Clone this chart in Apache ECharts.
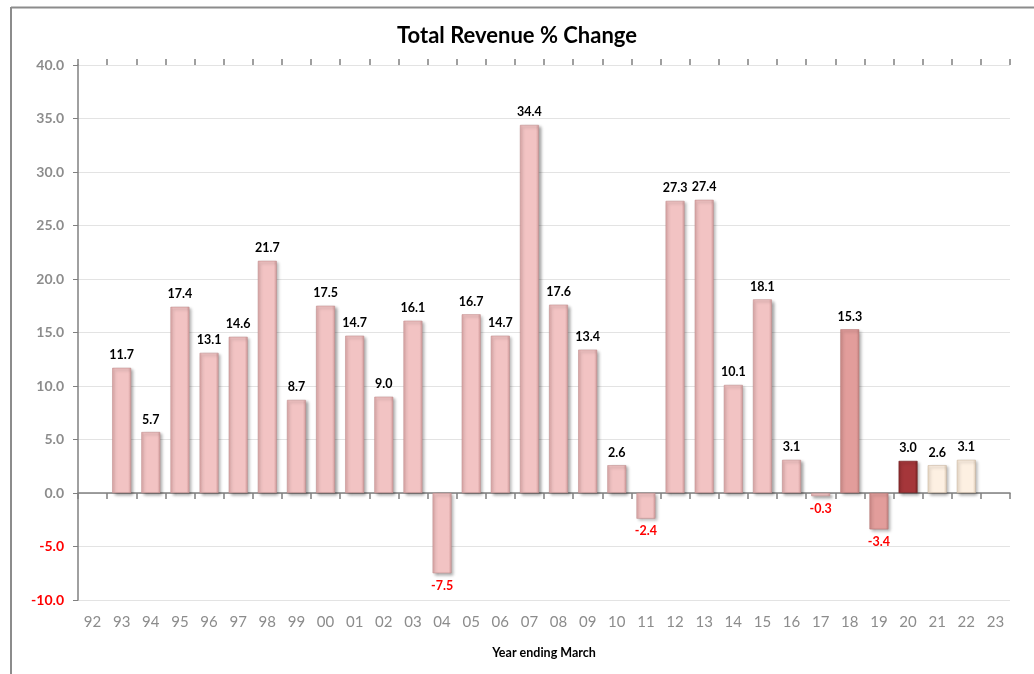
<!DOCTYPE html>
<html>
<head>
<meta charset="utf-8">
<script src="https://cdn.jsdelivr.net/npm/echarts@6/dist/echarts.min.js"></script>
<style>
html,body{margin:0;padding:0;background:#fff;}
#c{width:1034px;height:674px;}
</style>
</head>
<body>
<div id="c"></div>
<script>
// ---- data ----
const years = ['92','93','94','95','96','97','98','99','00','01','02','03','04','05','06','07','08','09','10','11','12','13','14','15','16','17','18','19','20','21','22','23'];
const revenueChange = [null,11.7,5.7,17.4,13.1,14.6,21.7,8.7,17.5,14.7,9.0,16.1,-7.5,16.7,14.7,34.4,17.6,13.4,2.6,-2.4,27.3,27.4,10.1,18.1,3.1,-0.3,15.3,-3.4,3.0,2.6,3.1,null];
const yTicks = [-10,-5,0,5,10,15,20,25,30,35,40];
const titleText = 'Total Revenue % Change';
const xAxisName = 'Year ending March';
// years drawn with a different fill
const midYears = ['18','19'];
const darkYears = ['20'];
const creamYears = ['21','22'];

// ---- styles ----
function grad(edgeL, mid, edgeR){
  return new echarts.graphic.LinearGradient(0,0,1,0,[
    {offset:0,color:edgeL},{offset:0.16,color:mid},{offset:0.84,color:mid},{offset:1,color:edgeR}
  ]);
}
function fillFor(y){
  if (darkYears.includes(y)) return grad('#8c2a2c','#a5363a','#7d2426');
  if (midYears.includes(y)) return grad('#cc8a88','#e29d9b','#c48482');
  if (creamYears.includes(y)) return grad('#eadac6','#fdf0e2','#e2d0bb');
  return grad('#dba6a6','#f2c3c3','#d29c9c');
}
function borderFor(y){
  if (darkYears.includes(y)) return '#6e1e20';
  if (midYears.includes(y)) return '#b57674';
  if (creamYears.includes(y)) return '#cdb9a3';
  return '#c29090';
}

const barData = revenueChange.map((v,i)=>{
  if (v === null) return {value:null};
  const neg = v < 0;
  return {
    value: v,
    itemStyle: {color: fillFor(years[i]), borderColor: borderFor(years[i])},
    label: {position: neg ? 'bottom' : 'top', color: neg ? '#ff0000' : '#000000'}
  };
});

const chart = echarts.init(document.getElementById('c'));
const fontFam = 'Lato, "Open Sans", sans-serif';
chart.setOption({
  backgroundColor:'#ffffff',
  animation:false,
  title:{
    text:titleText, left:'center', top:20,
    textStyle:{fontFamily:fontFam,fontSize:22,fontWeight:'bold',color:'#000'}
  },
  graphic:[
    {type:'line',shape:{x1:11,y1:7.5,x2:1034,y2:7.5},style:{stroke:'#8c8c8c',lineWidth:2}},
    {type:'line',shape:{x1:11,y1:7,x2:11,y2:674},style:{stroke:'#8c8c8c',lineWidth:2}}
  ],
  grid:{left:78,right:24,top:65,bottom:74},
  xAxis:[
    {type:'category',data:years,position:'bottom',
     axisLine:{onZero:true,lineStyle:{color:'#808080',width:1.5}},
     axisTick:{show:true,length:6,lineStyle:{color:'#808080',width:1.5}},
     axisLabel:{show:false},splitLine:{show:false}},
    {type:'category',data:years,position:'top',
     axisLine:{show:false,onZero:true},
     axisTick:{show:true,length:6,lineStyle:{color:'#808080',width:1.5}},
     axisLabel:{show:false},splitLine:{show:false}},
    {type:'category',data:years,position:'bottom',
     axisLine:{show:false,onZero:false},axisTick:{show:false},
     axisLabel:{interval:0,margin:15,fontFamily:fontFam,fontSize:15,color:'#8c8c8c'},
     name:xAxisName,nameLocation:'middle',nameGap:46,
     nameTextStyle:{fontFamily:fontFam,fontSize:12.5,fontWeight:'bold',color:'#000'}}
  ],
  yAxis:{
    type:'value',min:yTicks[0],max:yTicks[yTicks.length-1],interval:5,
    axisLine:{show:true,lineStyle:{color:'#808080',width:1.5}},
    axisTick:{show:true,length:5,lineStyle:{color:'#808080'}},
    splitLine:{show:true,lineStyle:{color:'#e3e3e3',width:1}},
    axisLabel:{margin:14,fontFamily:fontFam,fontSize:14,fontWeight:'bold',
      formatter:v=> v<0 ? '{n|'+v.toFixed(1)+'}' : '{p|'+v.toFixed(1)+'}',
      rich:{p:{color:'#8c8c8c',fontFamily:fontFam,fontSize:14,fontWeight:'bold'},
            n:{color:'#ff0000',fontFamily:fontFam,fontSize:14,fontWeight:'bold'}}}
  },
  series:[{
    type:'bar',xAxisIndex:0,data:barData,barWidth:'65%',
    itemStyle:{borderWidth:0.6,shadowColor:'rgba(0,0,0,0.35)',shadowBlur:3,shadowOffsetX:2,shadowOffsetY:2},
    label:{show:true,distance:6,fontFamily:fontFam,fontSize:12.5,fontWeight:'bold',
      formatter:p=> p.value==null ? '' : Number(p.value).toFixed(1)}
  }]
});
</script>
</body>
</html>
